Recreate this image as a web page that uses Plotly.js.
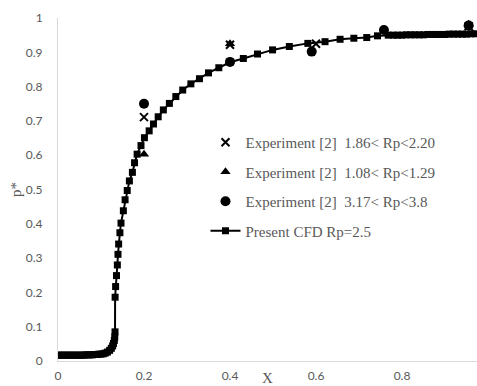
<!DOCTYPE html>
<html>
<head>
<meta charset="utf-8">
<script src="https://cdn.plot.ly/plotly-3.0.1.min.js"></script>
<style>html,body{margin:0;padding:0;background:#fff}#chart{width:477px;height:386px}</style>
</head>
<body>
<div id="chart"></div>
<script>
// Experiment [2] 1.86< Rp<2.20 (cross)
const expAx = [0.2, 0.4, 0.6, 0.955];
const expAy = [0.711, 0.922, 0.925, 0.976];
// Experiment [2] 1.08< Rp<1.29 (triangle)
const expBx = [0.2, 0.4, 0.955];
const expBy = [0.603, 0.925, 0.982];
// Experiment [2] 3.17< Rp<3.8 (circle)
const expCx = [0.2, 0.4, 0.59, 0.758, 0.955];
const expCy = [0.750, 0.872, 0.902, 0.965, 0.978];
// Present CFD Rp=2.5
const cfdX = [0, 0.005, 0.01, 0.015, 0.02, 0.025, 0.03, 0.035, 0.04, 0.045, 0.05, 0.055, 0.06, 0.065, 0.07, 0.075, 0.08, 0.085, 0.09, 0.095, 0.1,
  0.105, 0.11, 0.115, 0.12, 0.124, 0.127, 0.129, 0.131, 0.132, 0.1326, 0.1328, 0.134, 0.136, 0.138, 0.1395, 0.141, 0.144, 0.1465, 0.152, 0.156,
  0.161, 0.166, 0.173, 0.178, 0.184, 0.193, 0.201, 0.212, 0.222, 0.233, 0.245, 0.259, 0.274, 0.290, 0.309, 0.329, 0.350, 0.374, 0.400,
  0.431, 0.464, 0.499, 0.538, 0.581, 0.621, 0.656, 0.688, 0.718, 0.743, 0.768, 0.78, 0.79, 0.80, 0.81, 0.82, 0.83, 0.84, 0.85, 0.86, 0.87,
  0.88, 0.89, 0.90, 0.91, 0.92, 0.93, 0.94, 0.95, 0.96, 0.97];
const cfdY = [0.017, 0.017, 0.017, 0.017, 0.017, 0.017, 0.017, 0.017, 0.017, 0.017, 0.017, 0.017, 0.017, 0.018, 0.018, 0.018, 0.018, 0.019, 0.019, 0.020, 0.020,
  0.021, 0.023, 0.026, 0.031, 0.037, 0.044, 0.051, 0.060, 0.070, 0.085, 0.186, 0.217, 0.249, 0.280, 0.311, 0.341, 0.374, 0.402, 0.438, 0.470,
  0.497, 0.525, 0.550, 0.578, 0.603, 0.628, 0.651, 0.671, 0.691, 0.712, 0.732, 0.751, 0.771, 0.790, 0.808, 0.823, 0.840, 0.855, 0.871,
  0.882, 0.895, 0.907, 0.917, 0.926, 0.931, 0.938, 0.941, 0.943, 0.948, 0.950, 0.950, 0.950, 0.950, 0.951, 0.951, 0.951, 0.951, 0.951, 0.952, 0.952,
  0.952, 0.952, 0.952, 0.953, 0.953, 0.953, 0.953, 0.953, 0.954, 0.954];

const names = [
  'Experiment [2]\u00a0\u00a01.86<\u00a0Rp<2.20',
  'Experiment [2]\u00a0\u00a01.08<\u00a0Rp<1.29',
  'Experiment [2]\u00a0\u00a03.17<\u00a0Rp<3.8',
  'Present CFD Rp=2.5'
];

const traces = [
  {x: expAx, y: expAy, name: names[0], mode: 'markers', type: 'scatter', legendgroup: 'a',
   marker: {symbol: 'x-thin-open', size: 8, color: '#000', line: {color: '#000', width: 2}}},
  {x: expBx, y: expBy, name: names[1], mode: 'markers', type: 'scatter', legendgroup: 'b',
   marker: {symbol: 'triangle-up', size: 9, color: '#000'}},
  {x: expCx, y: expCy, name: names[2], mode: 'markers', type: 'scatter', legendgroup: 'c',
   marker: {symbol: 'circle', size: 10, color: '#000'}},
  {x: cfdX, y: cfdY, name: names[3], mode: 'lines+markers', type: 'scatter', legendgroup: 'd',
   line: {color: '#000', width: 2}, marker: {symbol: 'square', size: 7, color: '#000'}}
];

const tickFont = {family: 'Lato, Carlito, sans-serif', size: 12, color: '#595959'};
const layout = {
  width: 477, height: 386,
  margin: {l: 58, r: 0, t: 18, b: 25},
  paper_bgcolor: '#fff', plot_bgcolor: '#fff',
  showlegend: true,
  legend: {x: 0.352, xanchor: 'left', y: 0.685, yanchor: 'top', bgcolor: 'rgba(0,0,0,0)',
    font: {family: 'Liberation Serif, Times New Roman, serif', size: 15, color: '#595959'},
    tracegroupgap: 7, traceorder: 'grouped'},
  xaxis: {range: [0, 0.9744], dtick: 0.2, tick0: 0, showgrid: false, zeroline: false,
    showline: true, linecolor: '#d9d9d9', linewidth: 1, ticks: '', tickfont: tickFont,
    ticklabelstandoff: 4, automargin: false,
    title: {text: 'X', font: {family: 'Liberation Serif, serif', size: 15, color: '#595959'}, standoff: 9}},
  yaxis: {range: [0, 1], dtick: 0.1, tick0: 0, showgrid: false, zeroline: false,
    showline: true, linecolor: '#d9d9d9', linewidth: 1, ticks: '', tickfont: tickFont,
    ticklabelstandoff: 12, automargin: false,
    title: {text: 'p*', font: {family: 'Liberation Serif, serif', size: 15, color: '#595959'}, standoff: 0}}
};

Plotly.newPlot('chart', traces, layout, {staticPlot: true, displayModeBar: false});
</script>
</body>
</html>
